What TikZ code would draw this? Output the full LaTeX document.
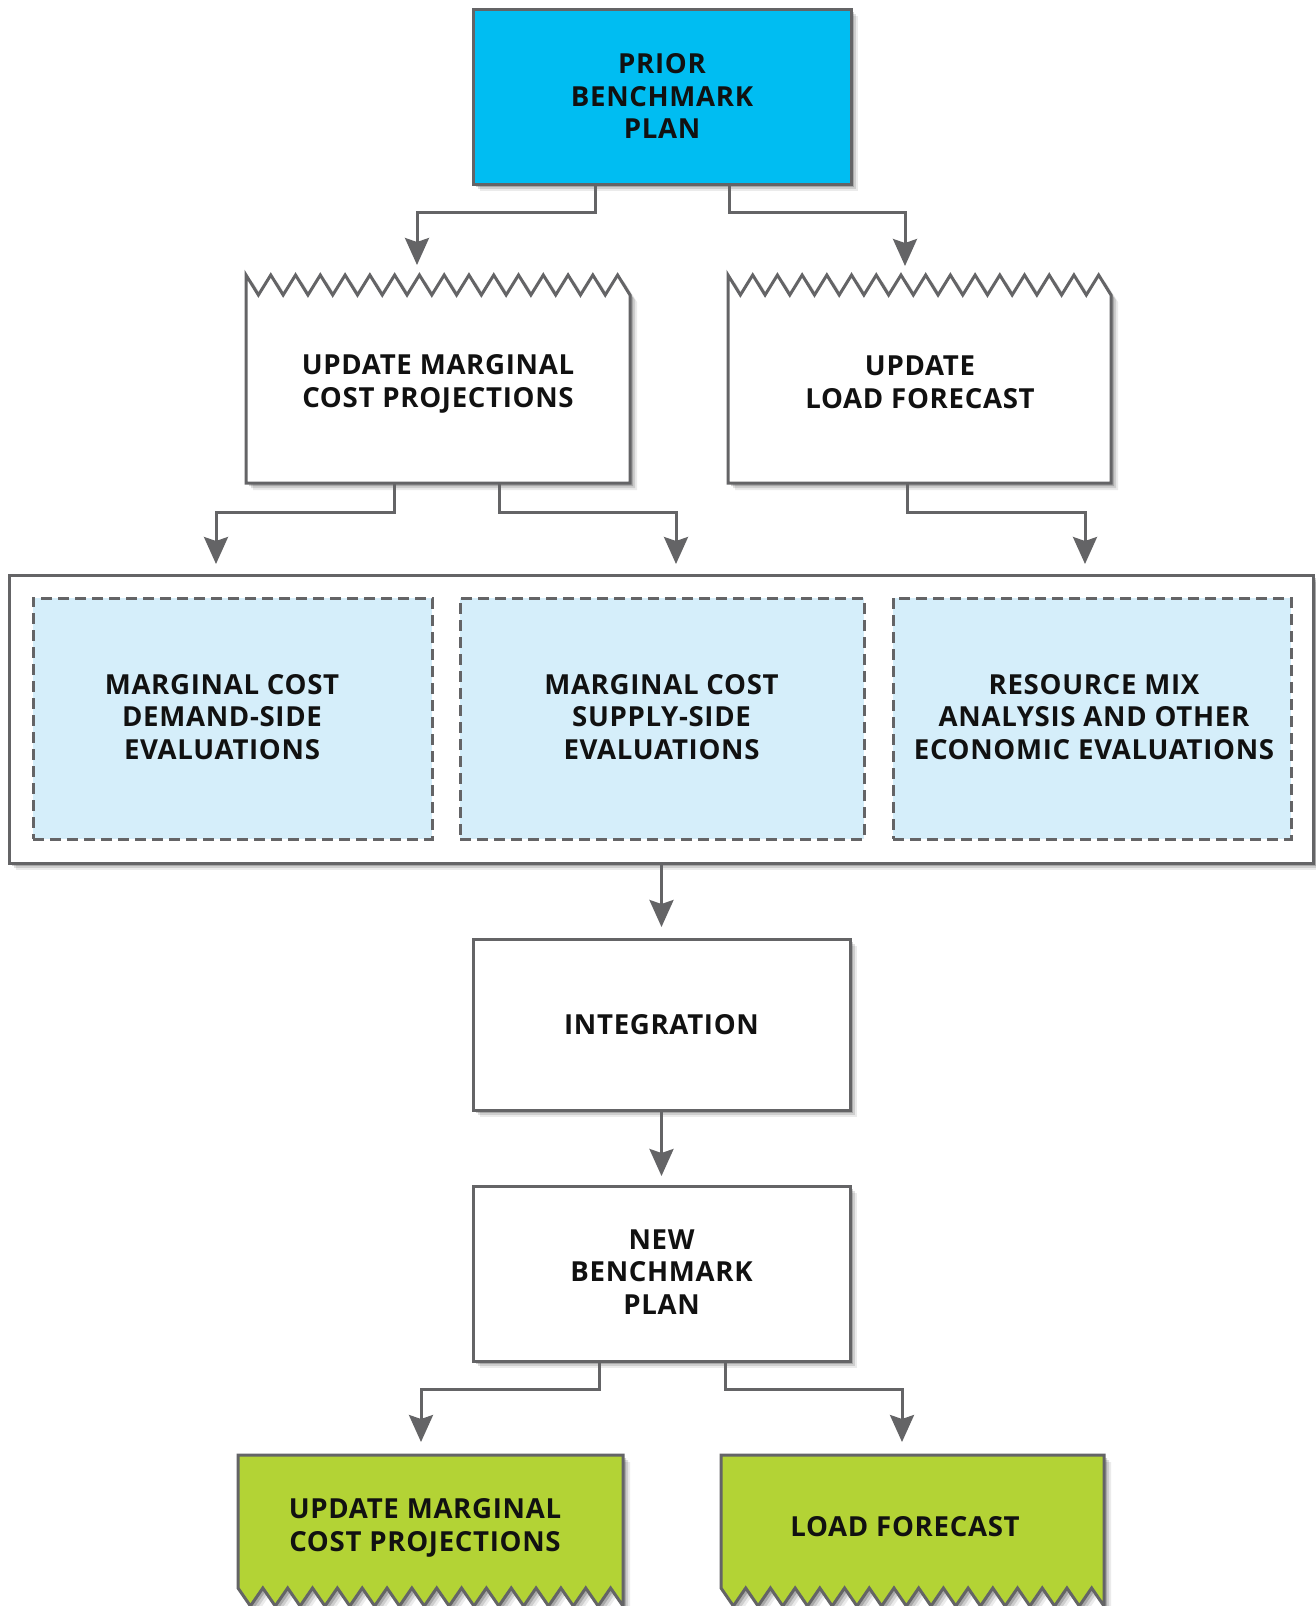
\documentclass[tikz,border=0pt]{standalone}
\usepackage{fontspec}
\setmainfont{Open Sans}[LetterSpace=2.5]
\def\fsz{27.6}
\usetikzlibrary{arrows.meta,shadows,calc}
\definecolor{linegray}{RGB}{100,100,102}
\definecolor{priorblue}{RGB}{0,189,242}
\definecolor{lightblue}{RGB}{213,238,250}
\definecolor{limegreen}{RGB}{179,211,53}
\definecolor{txt}{RGB}{17,17,17}
\begin{document}
\begin{tikzpicture}[x=1pt,y=-1pt,
  shadowed/.style={drop shadow={shadow xshift=7pt,shadow yshift=-7pt,opacity=.08,fill=black},
                   drop shadow={shadow xshift=5pt,shadow yshift=-5pt,opacity=.12,fill=black},
                   drop shadow={shadow xshift=3pt,shadow yshift=-3pt,opacity=.18,fill=black}},
  solidbox/.style={draw=linegray,line width=3pt,rectangle,inner sep=0pt,shadowed},
  dashbox/.style={draw=linegray,line width=3pt,dash pattern=on 11pt off 6pt,fill=lightblue,rectangle,inner sep=0pt},
  zigbox/.style={draw=linegray,line width=3pt,line join=miter,shadowed},
  label/.style={font={\fontsize{\fsz}{32.5}\selectfont\bfseries},text=txt,align=center,inner sep=0pt},
  arr/.style={draw=linegray,line width=3pt,-{Stealth[length=27pt,width=24pt,inset=4pt]}}]
\useasboundingbox (0,0) rectangle (1315,1606);
\fill[white] (0,0) rectangle (1315,1606);

% ---- top box
\node[solidbox,fill=priorblue,minimum width=378pt,minimum height=175pt] (prior) at (662,96.5) {};
\node[label] (priort) at (662,96) {PRIOR\\BENCHMARK\\PLAN};

% ---- zigzag top boxes
\pgfmathsetmacro{\pa}{(630-246)/15.5}
\draw[zigbox,fill=white] (246,483) -- (246,275)
  \foreach \k in {0,...,14} { -- ({246+(\k+0.5)*\pa},295) -- ({246+(\k+1)*\pa},275) }
  -- (630,295) -- (630,483) -- cycle;
\node[label] (umc) at (438,384) {UPDATE MARGINAL\\COST PROJECTIONS};

\pgfmathsetmacro{\pb}{(1111-728)/15.5}
\draw[zigbox,fill=white] (728,483) -- (728,275)
  \foreach \k in {0,...,14} { -- ({728+(\k+0.5)*\pb},295) -- ({728+(\k+1)*\pb},275) }
  -- (1111,295) -- (1111,483) -- cycle;
\node[label] (ulf) at (920,382) {UPDATE\\LOAD FORECAST};

% ---- evaluation group
\node[solidbox,fill=white,minimum width=1304pt,minimum height=288pt] (group) at (661,719) {};
\node[dashbox,minimum width=399pt,minimum height=241pt] (d1) at (232.5,718.5) {};
\node[dashbox,minimum width=404pt,minimum height=241pt] (d2) at (662,718.5) {};
\node[dashbox,minimum width=398pt,minimum height=241pt] (d3) at (1092,718.5) {};
\node[label] (d1t) at (222,717) {MARGINAL COST\\DEMAND-SIDE\\EVALUATIONS};
\node[label] (d2t) at (661.5,717) {MARGINAL COST\\SUPPLY-SIDE\\EVALUATIONS};
\node[label] (d3t) at (1094,717) {RESOURCE MIX\\ANALYSIS AND OTHER\\ECONOMIC EVALUATIONS};

% ---- integration and new plan
\node[solidbox,fill=white,minimum width=377pt,minimum height=171pt] (integ) at (661.5,1024.5) {};
\node[label] (integt) at (661.5,1025) {INTEGRATION};
\node[solidbox,fill=white,minimum width=377pt,minimum height=175pt] (newb) at (661.5,1273.5) {};
\node[label] (newbt) at (661.5,1272) {NEW\\BENCHMARK\\PLAN};

% ---- green bottom boxes
\pgfmathsetmacro{\pc}{(623-238)/15.5}
\draw[zigbox,fill=limegreen] (238,1455) -- (238,1588)
  \foreach \k in {0,...,14} { -- ({238+(\k+0.5)*\pc},1606) -- ({238+(\k+1)*\pc},1588) }
  -- (623,1606) -- (623,1455) -- cycle;
\node[label] (g1) at (425,1528) {UPDATE MARGINAL\\COST PROJECTIONS};

\pgfmathsetmacro{\pd}{(1104-721)/15.5}
\draw[zigbox,fill=limegreen] (721,1455) -- (721,1588)
  \foreach \k in {0,...,14} { -- ({721+(\k+0.5)*\pd},1606) -- ({721+(\k+1)*\pd},1588) }
  -- (1104,1606) -- (1104,1455) -- cycle;
\node[label] (g2) at (905,1527) {LOAD FORECAST};

% ---- connector end points
\coordinate (prior-l) at (595,184);
\coordinate (prior-r) at (729,184);
\coordinate (umc-in) at (417,265);
\coordinate (ulf-in) at (905,266);
\coordinate (umc-l) at (394,483);
\coordinate (umc-r) at (499,483);
\coordinate (ulf-b) at (907,483);
\coordinate (d1-in) at (216,564);
\coordinate (d2-in) at (676,564);
\coordinate (d3-in) at (1085,564);
\coordinate (integ-in) at (661.5,927);
\coordinate (newb-in) at (661.5,1176);
\coordinate (newb-l) at (599,1361);
\coordinate (newb-r) at (725,1361);
\coordinate (g1-in) at (421,1442);
\coordinate (g2-in) at (902,1442);

% ---- connectors
\draw[arr] (prior-l) -- ++(0,28) -| (umc-in);
\draw[arr] (prior-r) -- ++(0,28) -| (ulf-in);
\draw[arr] (umc-l) -- ++(0,29) -| (d1-in);
\draw[arr] (umc-r) -- ++(0,29) -| (d2-in);
\draw[arr] (ulf-b) -- ++(0,29) -| (d3-in);
\draw[arr] (group.south -| integ-in) -- (integ-in);
\draw[arr] (integ.south) -- (newb-in);
\draw[arr] (newb-l) -- ++(0,28) -| (g1-in);
\draw[arr] (newb-r) -- ++(0,28) -| (g2-in);
\end{tikzpicture}
\end{document}
